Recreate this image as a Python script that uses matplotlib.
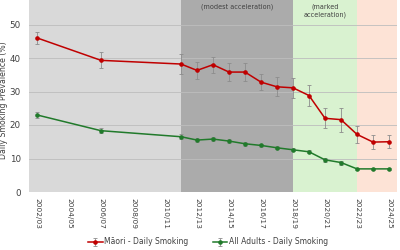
import numpy as np
import matplotlib.pyplot as plt

# category axis, one slot per survey year
categories = ["2002/03", "2003/04", "2004/05", "2005/06", "2006/07", "2007/08",
              "2008/09", "2009/10", "2010/11", "2011/12", "2012/13", "2013/14",
              "2014/15", "2015/16", "2016/17", "2017/18", "2018/19", "2019/20",
              "2020/21", "2021/22", "2022/23", "2023/24", "2024/25"]

survey_years = ["2002/03", "2006/07", "2011/12", "2012/13", "2013/14", "2014/15",
                "2015/16", "2016/17", "2017/18", "2018/19", "2019/20", "2020/21",
                "2021/22", "2022/23", "2023/24", "2024/25"]

maori = [46.0, 39.3, 38.2, 36.3, 38.0, 35.8, 35.8, 32.8, 31.4, 31.1, 28.8, 22.0,
         21.6, 17.2, 14.9, 15.0]
maori_err = [1.9, 2.4, 2.9, 2.5, 2.4, 2.8, 2.8, 2.4, 2.8, 2.9, 3.0, 3.0,
             3.6, 2.5, 2.0, 2.0]

adults = [23.0, 18.3, 16.5, 15.5, 15.8, 15.2, 14.4, 13.9, 13.2, 12.6, 12.0, 9.6,
          8.8, 6.9, 6.9, 6.9]
adults_err = [1.0, 0.8, 0.8, 0.6, 0.6, 0.6, 0.6, 0.5, 0.5, 0.5, 0.5, 0.5,
              0.6, 0.4, 0.4, 0.4]

# shaded periods (start category, end category, colour, readable label)
periods = [("2002/03", "2011/12", "#d9d9d9", ""),
           ("2011/12", "2018/19", "#ababab", "(modest acceleration)"),
           ("2018/19", "2022/23", "#d9f2d0", "(marked\nacceleration)"),
           ("2022/23", "2024/25", "#fde3d6", "")]

fig = plt.figure(figsize=(4, 2.5), dpi=100)
ax = fig.add_axes([0.0725, 0.232, 0.92, 0.804])

xpos = np.array([categories.index(y) for y in survey_years])

for i, (a, b, col, lab) in enumerate(periods):
    x0 = categories.index(a) if i > 0 else -0.5
    x1 = categories.index(b) if i < len(periods) - 1 else len(categories) - 0.5
    ax.axvspan(x0, x1, color=col, zorder=0, lw=0)
    if lab:
        ax.text((x0 + x1) / 2, 56.3, lab, ha="center", va="top", fontsize=4.7,
                color="#404040", linespacing=1.35, zorder=1)

for yv in range(10, 60, 10):
    ax.axhline(yv, color="#bdbdbd", lw=0.6, zorder=1)

ax.errorbar(xpos, maori, yerr=maori_err, color="#c00000", lw=1.1, marker="o",
            ms=2.3, ecolor="#8c8c8c", elinewidth=0.6, capsize=1.5, capthick=0.6,
            label="Māori - Daily Smoking", zorder=3)
ax.errorbar(xpos, adults, yerr=adults_err, color="#217a2b", lw=1.1, marker="o",
            ms=2.3, ecolor="#8c8c8c", elinewidth=0.6, capsize=1.5, capthick=0.6,
            label="All Adults - Daily Smoking", zorder=3)

ax.set_xlim(-0.5, len(categories) - 0.5)
ax.set_ylim(0, 60)
ax.set_yticks(range(0, 60, 10))
ax.set_xticks(range(0, len(categories), 2))
ax.set_xticklabels(categories[::2], rotation=-90, fontsize=5.3, color="#404040")
ax.tick_params(axis="y", labelsize=6.3, colors="#404040", length=0, pad=6)
ax.tick_params(axis="x", length=0, pad=4)
for s in ax.spines.values():
    s.set_visible(False)
ax.set_ylabel("Daily Smoking Prevalence (%)", fontsize=5.6, color="#404040")
ax.yaxis.set_label_coords(-0.058, 0.458)

handles, labels = ax.get_legend_handles_labels()
fig.legend(handles, labels, loc="center", bbox_to_anchor=(0.52, 0.032), ncol=2,
           frameon=False, fontsize=5.5, handlelength=1.9, handletextpad=0.2,
           columnspacing=3.2, labelcolor="#404040")

fig.savefig("out.png", dpi=100)
